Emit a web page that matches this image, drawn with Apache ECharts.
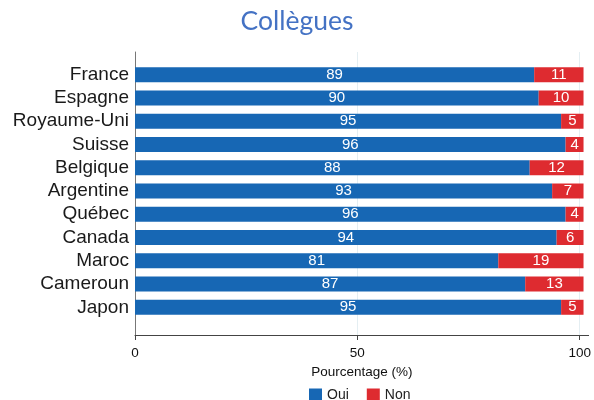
<!DOCTYPE html>
<html><head><meta charset="utf-8">
<script src="https://cdn.jsdelivr.net/npm/echarts@6/dist/echarts.min.js"></script>
<style>html,body{margin:0;padding:0;background:#fff}#c{width:594px;height:400px}</style>
</head><body><div id="c"></div>
<script>
const categories = ['France','Espagne','Royaume-Uni','Suisse','Belgique','Argentine','Québec','Canada','Maroc','Cameroun','Japon'];
const oui = [89,90,95,96,88,93,96,94,81,87,95];
const non = [11,10,5,4,12,7,4,6,19,13,5];
const xTicks = [0,50,100];
const seriesNames = ['Oui','Non'];

const chart = echarts.init(document.getElementById('c'), null, {renderer:'canvas'});
const font = 'Liberation Sans, Arial, sans-serif';
chart.setOption({
  animation:false,
  title:{text:'Collègues', left:'center', top:3, textStyle:{fontFamily:'Lato, Open Sans, sans-serif', fontSize:26.5, fontWeight:'normal', color:'#4472c4'}},
  legend:{data:seriesNames, left:304, top:383, itemWidth:13, itemHeight:13, itemGap:18, icon:'rect',
    textStyle:{fontFamily:font, fontSize:14, color:'#222'}},
  grid:[
    {left:135, right:1.5, top:52, bottom:65},
    {left:135, right:1.5, top:63.1, bottom:81.1}
  ],
  xAxis:[
    {gridIndex:0, type:'value', min:0, max:102, interval:50,
     axisLine:{show:true, lineStyle:{color:'#444', width:1}},
     axisTick:{show:true, length:5, customValues:xTicks, lineStyle:{color:'#444'}},
     axisLabel:{customValues:xTicks, color:'#111', fontFamily:font, fontSize:13.5, margin:11},
     splitLine:{show:true, lineStyle:{color:'#e4eef2', width:1}},
     name:'Pourcentage (%)', nameLocation:'middle', nameGap:19,
     nameTextStyle:{color:'#111', fontFamily:font, fontSize:13.5}},
    {gridIndex:1, type:'value', min:0, max:102, show:false, splitLine:{show:false}}
  ],
  yAxis:[
    {gridIndex:0, type:'value', min:0, max:1, axisLine:{show:true, lineStyle:{color:'#777', width:1}},
     axisTick:{show:false}, axisLabel:{show:false}, splitLine:{show:false}},
    {gridIndex:1, type:'category', data:categories, inverse:true,
     axisLine:{show:false}, axisTick:{show:false}, splitLine:{show:false},
     axisLabel:{interval:0, hideOverlap:false, color:'#1a1a1a', fontFamily:font, fontSize:19, margin:6}}
  ],
  series:[
    {name:'Oui', type:'bar', stack:'t', xAxisIndex:1, yAxisIndex:1, data:oui, barWidth:15,
     itemStyle:{color:'#1767b4'},
     label:{show:true, position:'inside', color:'#fff', fontFamily:font, fontSize:15}},
    {name:'Non', type:'bar', stack:'t', xAxisIndex:1, yAxisIndex:1, data:non, barWidth:15,
     itemStyle:{color:'#de2b30'},
     label:{show:true, position:'inside', color:'#fff', fontFamily:font, fontSize:15}}
  ]
});
</script></body></html>
